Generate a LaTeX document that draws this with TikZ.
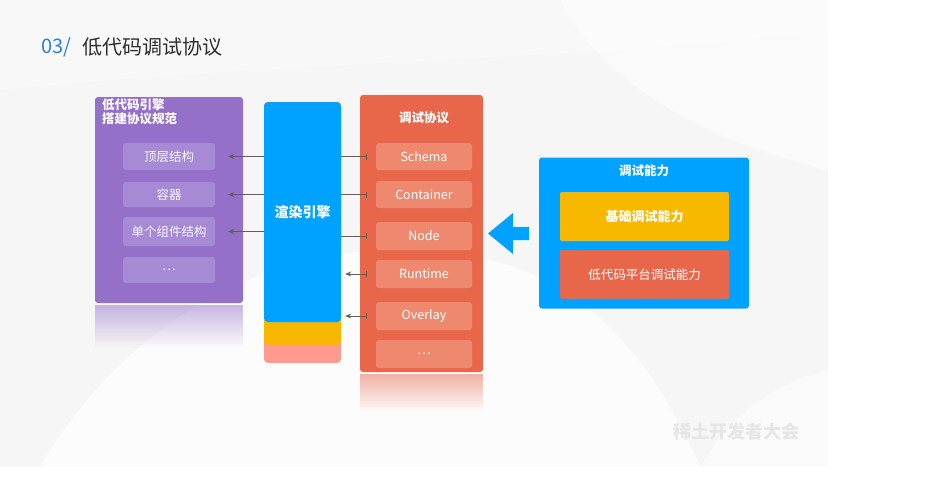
\documentclass[tikz,border=0pt]{standalone}
\usepackage{fontspec}
\setmainfont{Noto Sans CJK SC}
\usetikzlibrary{arrows.meta,positioning,calc,fadings}
\definecolor{bgslide}{HTML}{F6F6F6}
\definecolor{titleblue}{HTML}{2F7FE3}
\definecolor{titlegray}{HTML}{2E2E2E}
\definecolor{purpmain}{HTML}{9470C9}
\definecolor{purpitem}{HTML}{A68AD5}
\definecolor{bluemain}{HTML}{00A2FF}
\definecolor{yellowmain}{HTML}{F8B800}
\definecolor{salmon}{HTML}{FF9A8E}
\definecolor{redmain}{HTML}{E8674A}
\definecolor{reditem}{HTML}{EE8970}
\definecolor{linegray}{HTML}{5E5E5E}
\definecolor{wmgray}{HTML}{E6E6E6}
\tikzset{
  panel/.style={rounded corners=3pt, inner sep=0pt, draw=none},
  pitem/.style={panel, fill=purpitem, minimum width=92pt, text=white!92!purpitem, font=\fontsize{12.5}{14}\selectfont},
  ritem/.style={panel, fill=reditem, minimum width=96pt, minimum height=28pt, text=white, font=\fontsize{12.5}{14}\selectfont},
  lbl/.style={text=white, font=\bfseries\fontsize{12.5}{15}\selectfont},
  conn/.style={draw=linegray, line width=0.9pt},
  tipL/.style={{Stealth[length=6pt,width=5pt]}-},
  barR/.style={-{Bar[width=6pt,line width=1pt]}},
  reflect/.style={path fading=south, opacity=0.5},
}
\begin{document}
\begin{tikzpicture}[x=1pt,y=-1pt]
\useasboundingbox (0,0) rectangle (929,477);
\fill[white] (0,0) rectangle (929,477);
% slide background
\fill[bgslide] (0,0) rectangle (828,467);
\fill[white, opacity=0.7] (40,467) .. controls (120,330) and (260,240) .. (430,250) .. controls (560,260) and (640,330) .. (700,467) -- cycle;
\fill[white, opacity=0.3] (0,0) -- (828,0) -- (828,30) .. controls (600,60) and (300,60) .. (0,90) -- cycle;
\fill[white, opacity=0.5] (560,0) .. controls (600,80) and (700,140) .. (828,170) -- (828,0) -- cycle;
\fill[white, opacity=0.5] (700,467) .. controls (740,400) and (790,380) .. (828,370) -- (828,467) -- cycle;
% title
\node[anchor=west, text=titleblue, font=\fontsize{20}{22}\selectfont, inner sep=0pt] (num) at (41,47) {03/};
\node[anchor=west, text=titlegray, font=\fontsize{20}{22}\selectfont, inner sep=0pt] (title) at (82,47) {低代码调试协议};

% purple panel reflection
\fill[purpmain, reflect] (95,305) rectangle (243,348);
\node[panel, fill=purpmain, minimum width=148pt, minimum height=206pt] (spec) at (169,200) {};
\node[lbl, anchor=north west, align=left, inner sep=0pt] (spectitle) at (102,99) {低代码引擎\\[-1pt]搭建协议规范};
\node[pitem, minimum height=27pt] (tops) at (169,156.5) {顶层结构};
\node[pitem, minimum height=25pt] (cont) at (169,194.5) {容器};
\node[pitem, minimum height=29pt] (comp) at (169,231.5) {单个组件结构};
\node[pitem, minimum height=26pt] (pdots) at (169,270) {\dots};

% render engine bar
\fill[salmon, rounded corners=4pt] (264,102) rectangle (341,363);
\fill[yellowmain, rounded corners=4pt] (264,102) rectangle (341,345);
\node[panel, fill=bluemain, rounded corners=4pt, minimum width=77pt, minimum height=220pt, text=white, font=\bfseries\fontsize{14}{16}\selectfont] (render) at (302.5,212) {渲染引擎};

% red panel reflection
\fill[redmain, reflect] (360,374) rectangle (483,412);
\node[panel, fill=redmain, minimum width=123pt, minimum height=277pt] (proto) at (421.5,233.5) {};
\node[lbl, anchor=center] (prototitle) at (424,118) {调试协议};
\node[ritem, minimum height=27pt] (schema) at (424,156.5) {Schema};
\node[ritem, minimum height=27pt] (container) at (424,194.5) {Container};
\node[ritem] (nodeitem) at (424,236) {Node};
\node[ritem] (runtime) at (424,274) {Runtime};
\node[ritem] (overlay) at (424,316) {Overlay};
\node[ritem] (rdots) at (424,354) {\dots};

% connectors render -> spec
\draw[conn, tipL, shorten <=13pt] (tops.east) -- (render.west |- tops.east);
\draw[conn, tipL, shorten <=13pt] (cont.east) -- (render.west |- cont.east);
\draw[conn, tipL, shorten <=13pt] (comp.east) -- (render.west |- comp.east);
% connectors protocol -> render
\draw[conn, barR, shorten >=9pt] (render.east |- schema.west) -- (schema.west);
\draw[conn, barR, shorten >=9pt] (render.east |- container.west) -- (container.west);
\draw[conn, barR, shorten >=9pt] (render.east |- nodeitem.west) -- (nodeitem.west);
\draw[conn, {Stealth[length=6pt,width=5pt]}-{Bar[width=6pt,line width=1pt]}, shorten <=4pt, shorten >=9pt] (render.east |- runtime.west) -- (runtime.west);
\draw[conn, {Stealth[length=6pt,width=5pt]}-{Bar[width=6pt,line width=1pt]}, shorten <=4pt, shorten >=9pt] (render.east |- overlay.west) -- (overlay.west);

% capability panel
\node[panel, fill=bluemain, minimum width=210pt, minimum height=151pt] (cap) at (644,233) {};
\node[lbl, anchor=center] (captitle) at (644,171) {调试能力};
\node[panel, fill=yellowmain, rounded corners=2pt, minimum width=169pt, minimum height=49pt, text=white, font=\bfseries\fontsize{13}{15}\selectfont] (basic) at (644.5,216.5) {基础调试能力};
\node[panel, fill=redmain, rounded corners=2pt, minimum width=169pt, minimum height=49pt, text=white, font=\fontsize{12.5}{15}\selectfont] (lowcap) at (644.5,274.5) {低代码平台调试能力};

% big blue arrow
\coordinate (atip) at (488,233.5);
\fill[bluemain] (atip) -- (513,213) -- (513,227) -- (529,227) -- (529,240) -- (513,240) -- (513,254) -- cycle;

% watermark
\node[text=wmgray, font=\bfseries\fontsize{18}{20}\selectfont, inner sep=0pt] (wm) at (736,432) {稀土开发者大会};
\end{tikzpicture}
\end{document}
